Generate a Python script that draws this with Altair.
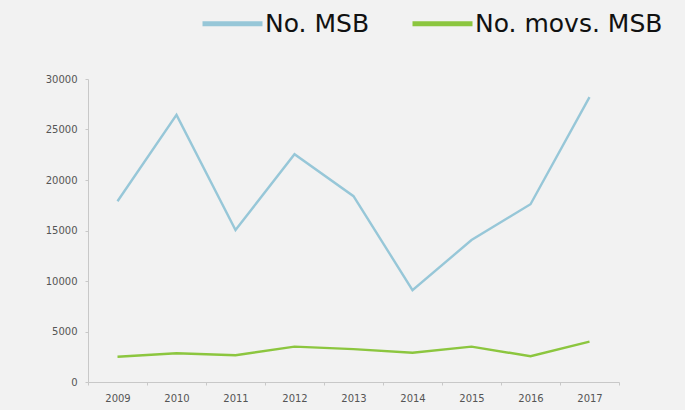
import altair as alt
import pandas as pd

years = ["2009", "2010", "2011", "2012", "2013", "2014", "2015", "2016", "2017"]
msb = [17900, 26450, 15050, 22550, 18400, 9100, 14050, 17600, 28200]
movs = [2500, 2850, 2650, 3500, 3250, 2900, 3500, 2550, 4000]
series_names = ["No. MSB", "No. movs. MSB"]
colors = ["#97c7d8", "#8cc63f"]

rows = []
for y, a, b in zip(years, msb, movs):
    rows.append({"year": y, "series": series_names[0], "value": a})
    rows.append({"year": y, "series": series_names[1], "value": b})
df = pd.DataFrame(rows)

chart = alt.Chart(df).mark_line(strokeWidth=2.4).encode(
    x=alt.X("year:N", sort=years, title=None,
            scale=alt.Scale(paddingInner=0, paddingOuter=0),
            axis=alt.Axis(labelAngle=0, tickBand="extent", tickSize=3, labelPadding=8,
                          domainColor="#c8c8c8", tickColor="#c8c8c8",
                          labelColor="#555555", labelFontSize=10, labelFont="DejaVu Sans",
                          grid=False)),
    y=alt.Y("value:Q", title=None,
            scale=alt.Scale(domain=[0, 30000], nice=False),
            axis=alt.Axis(values=[0, 5000, 10000, 15000, 20000, 25000, 30000], format="d",
                          tickSize=3, labelPadding=8,
                          domainColor="#c8c8c8", tickColor="#c8c8c8",
                          labelColor="#555555", labelFontSize=10, labelFont="DejaVu Sans",
                          grid=False)),
    color=alt.Color("series:N", sort=series_names,
                    scale=alt.Scale(domain=series_names, range=colors),
                    legend=alt.Legend(title=None, orient="none", direction="horizontal",
                                      legendX=112, legendY=-88,
                                      symbolType="stroke", symbolSize=3600, symbolStrokeWidth=5,
                                      labelFontSize=25, labelFont="DejaVu Sans", labelColor="#111111",
                                      labelOffset=0, columnPadding=32, labelLimit=300)),
).properties(
    width=531, height=303,
    autosize=alt.AutoSizeParams(type="none"),
    padding={"left": 88, "top": 79, "right": 66, "bottom": 28},
    background="#f2f2f2",
).configure_view(stroke=None)

chart.save("out.html", embed_options={"renderer": "svg", "actions": False})
